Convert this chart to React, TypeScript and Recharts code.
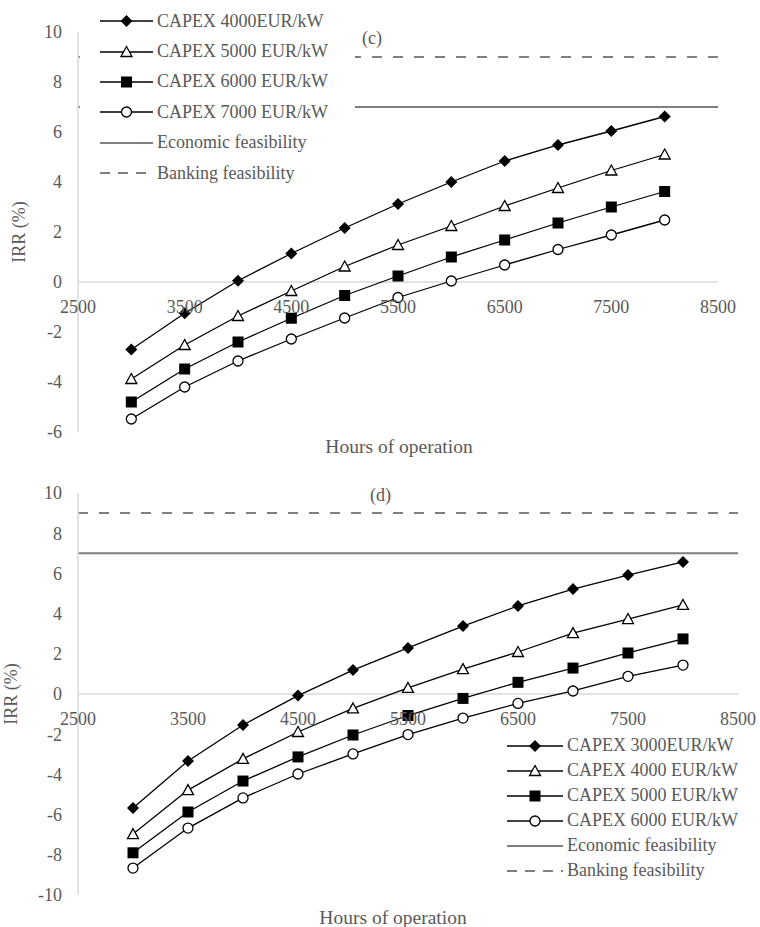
import { FC } from "react";
import { Legend, Line, LineChart, ReferenceLine, XAxis, YAxis } from "recharts";

// hours of operation (x) and axis ticks
const HOURS = [3000, 3500, 4000, 4500, 5000, 5500, 6000, 6500, 7000, 7500, 8000];
const X_TICKS = [2500, 3500, 4500, 5500, 6500, 7500, 8500];

// panel (c)
const C_NAMES = ["CAPEX 4000EUR/kW", "CAPEX 5000 EUR/kW", "CAPEX 6000 EUR/kW", "CAPEX 7000 EUR/kW"];
const C_CAPEX_4000 = [-2.7, -1.25, 0.05, 1.14, 2.16, 3.12, 4.0, 4.84, 5.48, 6.04, 6.62];
const C_CAPEX_5000 = [-3.88, -2.52, -1.36, -0.36, 0.62, 1.48, 2.24, 3.04, 3.76, 4.46, 5.1];
const C_CAPEX_6000 = [-4.8, -3.48, -2.4, -1.45, -0.54, 0.24, 1.0, 1.68, 2.36, 3.0, 3.62];
const C_CAPEX_7000 = [-5.48, -4.2, -3.16, -2.28, -1.44, -0.62, 0.04, 0.68, 1.3, 1.88, 2.48];
const C_Y_TICKS = [-6, -4, -2, 0, 2, 4, 6, 8, 10];

// panel (d)
const D_NAMES = ["CAPEX 3000EUR/kW", "CAPEX 4000 EUR/kW", "CAPEX 5000 EUR/kW", "CAPEX 6000 EUR/kW"];
const D_CAPEX_3000 = [-5.67, -3.33, -1.54, -0.08, 1.19, 2.29, 3.38, 4.38, 5.22, 5.92, 6.57];
const D_CAPEX_4000 = [-6.97, -4.78, -3.23, -1.89, -0.72, 0.3, 1.24, 2.09, 3.03, 3.73, 4.43];
const D_CAPEX_5000 = [-7.9, -5.87, -4.33, -3.13, -2.04, -1.07, -0.22, 0.58, 1.29, 2.04, 2.74];
const D_CAPEX_6000 = [-8.66, -6.67, -5.17, -3.98, -2.98, -2.02, -1.2, -0.47, 0.15, 0.88, 1.44];
const D_Y_TICKS = [-10, -8, -6, -4, -2, 0, 2, 4, 6, 8, 10];

// thresholds
const ECONOMIC_IRR = 7;
const BANKING_IRR = 9;
const THRESHOLD_NAMES = ["Economic feasibility", "Banking feasibility"];

const SHAPES = ["diamond", "triangle", "square", "circle"];
const FONT = "'Liberation Serif', serif";
const GRAY = "#595959";
const LIGHT = "#d9d9d9";
const THRESH = "#7f7f7f";
const DASH = "10 11";

const Marker: FC<{ shape: string; cx: number; cy: number }> = ({ shape, cx, cy }) => {
  if (shape === "diamond")
    return <path d={`M${cx},${cy - 6}L${cx + 6},${cy}L${cx},${cy + 6}L${cx - 6},${cy}Z`} fill="#000" />;
  if (shape === "triangle")
    return (
      <path
        d={`M${cx},${cy - 5.5}L${cx + 5.5},${cy + 4.5}L${cx - 5.5},${cy + 4.5}Z`}
        fill="#fff"
        stroke="#000"
        strokeWidth={1.3}
      />
    );
  if (shape === "square") return <rect x={cx - 5.5} y={cy - 5.5} width={11} height={11} fill="#000" />;
  return <circle cx={cx} cy={cy} r={5} fill="#fff" stroke="#000" strokeWidth={1.3} />;
};

const LegendBox: FC<{ names: string[]; rowH: number; lineW: number; padLeft: number }> = ({
  names,
  rowH,
  lineW,
  padLeft,
}) => (
  <div style={{ fontFamily: FONT, fontSize: 18, color: GRAY, background: "#fff", paddingLeft: padLeft }}>
    {names.map((n, i) => (
      <div key={n} style={{ display: "flex", alignItems: "center", height: rowH }}>
        <svg width={lineW} height={14}>
          <line x1={0} y1={7} x2={lineW} y2={7} stroke="#000" strokeWidth={1.3} />
          <Marker shape={SHAPES[i]} cx={lineW / 2} cy={7} />
        </svg>
        <span style={{ marginLeft: 4, whiteSpace: "nowrap" }}>{n}</span>
      </div>
    ))}
    {THRESHOLD_NAMES.map((n, i) => (
      <div key={n} style={{ display: "flex", alignItems: "center", height: rowH }}>
        <svg width={lineW} height={14}>
          <line
            x1={0}
            y1={7}
            x2={lineW}
            y2={7}
            stroke={THRESH}
            strokeWidth={2}
            strokeDasharray={i === 1 ? "10 8" : undefined}
          />
        </svg>
        <span style={{ marginLeft: 4, whiteSpace: "nowrap" }}>{n}</span>
      </div>
    ))}
  </div>
);

type PanelProps = {
  top: number;
  height: number;
  plotTop: number;
  right: number;
  xAxisH: number;
  yTicks: number[];
  series: number[][];
  names: string[];
  legendPos: { left: number; top: number; width: number; pad: number };
  rowH: number;
  lineW: number;
  tag: string;
  tagPos: { left: number; top: number };
  titleDx: number;
  titleDy: number;
  yTitleX: number;
};

const Panel: FC<PanelProps> = (p) => {
  const rows = HOURS.map((h, i) => {
    const r: Record<string, number> = { hours: h };
    p.series.forEach((s, k) => (r[`s${k}`] = s[i]));
    return r;
  });
  const yMin = p.yTicks[0];
  const yMax = p.yTicks[p.yTicks.length - 1];
  const plotBottom = p.height - p.xAxisH;
  const zeroY = p.plotTop + ((plotBottom - p.plotTop) * yMax) / (yMax - yMin);

  return (
    <div style={{ position: "absolute", left: 0, top: p.top, width: 760, height: p.height }}>
      <LineChart width={760} height={p.height} data={rows} margin={{ top: p.plotTop, right: p.right, left: 0, bottom: 0 }}>
        <XAxis
          dataKey="hours"
          type="number"
          domain={[2500, 8500]}
          ticks={X_TICKS}
          interval={0}
          height={p.xAxisH}
          axisLine={false}
          tickLine={false}
          tick={(t: any) => (
            <text key={t.payload.value} x={t.x} y={zeroY + 31} textAnchor="middle" fill={GRAY} fontSize={18} fontFamily={FONT}>
              {t.payload.value}
            </text>
          )}
          label={(l: any) => (
            <text
              x={l.viewBox.x + l.viewBox.width / 2 + p.titleDx}
              y={l.viewBox.y + p.titleDy}
              textAnchor="middle"
              fill={GRAY}
              fontSize={19.5}
              fontFamily={FONT}
            >
              Hours of operation
            </text>
          )}
        />
        <YAxis
          type="number"
          domain={[yMin, yMax]}
          ticks={p.yTicks}
          interval={0}
          width={78}
          axisLine={{ stroke: LIGHT, strokeWidth: 1.5 }}
          tickLine={false}
          tickSize={0}
          tickMargin={16}
          tick={{ fill: GRAY, fontSize: 18, fontFamily: FONT }}
          label={(l: any) => {
            const cy = l.viewBox.y + l.viewBox.height / 2;
            return (
              <text
                transform={`translate(${p.yTitleX},${cy}) rotate(-90)`}
                textAnchor="middle"
                fill={GRAY}
                fontSize={18}
                fontFamily={FONT}
              >
                IRR (%)
              </text>
            );
          }}
        />
        <ReferenceLine y={0} stroke={LIGHT} strokeWidth={1.5} />
        <ReferenceLine y={ECONOMIC_IRR} stroke={THRESH} strokeWidth={2} />
        <ReferenceLine y={BANKING_IRR} stroke={THRESH} strokeWidth={2} strokeDasharray={DASH} />
        {p.series.map((_, k) => (
          <Line
            key={k}
            dataKey={`s${k}`}
            name={p.names[k]}
            stroke="#000"
            strokeWidth={1.3}
            isAnimationActive={false}
            dot={(d: any) => <Marker key={`${k}-${d.index}`} shape={SHAPES[k]} cx={d.cx} cy={d.cy} />}
            activeDot={false}
          />
        ))}
        <Legend
          layout="horizontal"
          verticalAlign="middle"
          wrapperStyle={{
            position: "absolute",
            left: p.legendPos.left,
            top: p.legendPos.top,
            width: p.legendPos.width,
            zIndex: 5,
          }}
          content={() => <LegendBox names={p.names} rowH={p.rowH} lineW={p.lineW} padLeft={p.legendPos.pad} />}
        />
      </LineChart>
      <div
        style={{
          position: "absolute",
          left: p.tagPos.left,
          top: p.tagPos.top,
          fontFamily: FONT,
          fontSize: 18,
          color: GRAY,
          lineHeight: "20px",
          zIndex: 6,
        }}
      >
        {p.tag}
      </div>
    </div>
  );
};

export default function App() {
  return (
    <div style={{ position: "absolute", left: 0, top: 0, width: 760, height: 927, background: "#fff" }}>
      <Panel
        top={0}
        height={470}
        plotTop={32}
        right={42}
        xAxisH={38}
        yTicks={C_Y_TICKS}
        series={[C_CAPEX_4000, C_CAPEX_5000, C_CAPEX_6000, C_CAPEX_7000]}
        names={C_NAMES}
        legendPos={{ left: 80, top: 6, width: 275, pad: 20 }}
        rowH={30.4}
        lineW={53}
        tag="(c)"
        tagPos={{ left: 362, top: 28 }}
        titleDx={1}
        titleDy={21}
        yTitleX={25}
      />
      <Panel
        top={460}
        height={467}
        plotTop={33}
        right={22}
        xAxisH={32}
        yTicks={D_Y_TICKS}
        series={[D_CAPEX_3000, D_CAPEX_4000, D_CAPEX_5000, D_CAPEX_6000]}
        names={D_NAMES}
        legendPos={{ left: 507, top: 273, width: 240, pad: 0 }}
        rowH={25}
        lineW={56}
        tag="(d)"
        tagPos={{ left: 370, top: 25 }}
        titleDx={-15}
        titleDy={29}
        yTitleX={17}
      />
    </div>
  );
}
